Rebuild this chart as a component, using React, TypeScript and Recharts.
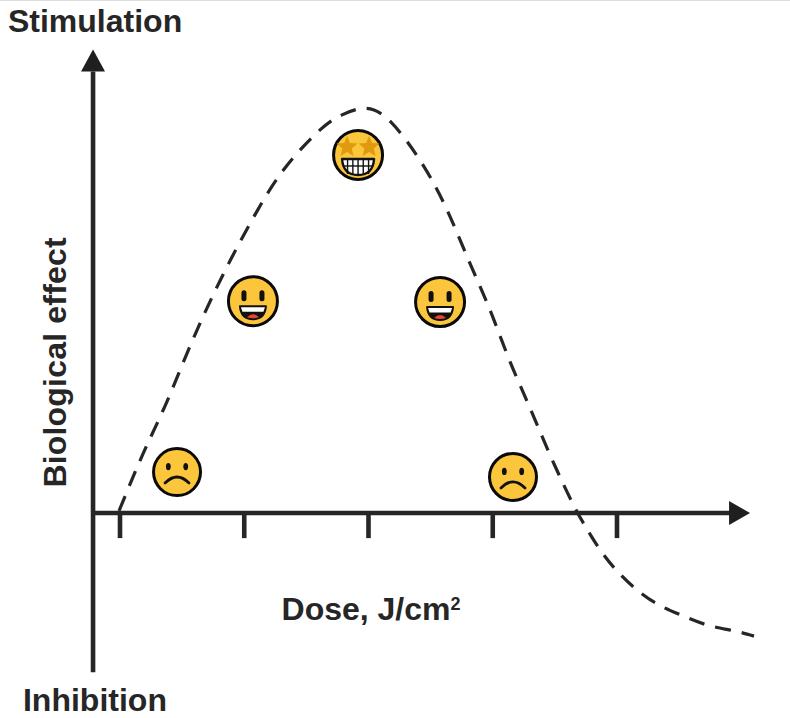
import React from "react";
import { ComposedChart, Line, Scatter, XAxis, YAxis, ReferenceLine, ReferenceDot } from "recharts";

const curveDose = [-0.008,0.185,0.362,0.531,0.7,0.893,1.095,1.328,1.61,1.787,1.972,2.181,2.439,2.64,2.809,2.978,3.131,3.3,3.469,3.646,3.759,3.871,4.0,4.161,4.338,4.531,4.732,4.942,5.103];
const curveEffect = [0.5,14.6,26.4,38.8,50.6,62.7,74.1,85.2,94.6,98.3,99.9,96.5,85.9,74.3,62.2,50.1,38.0,25.9,13.8,2.2,-4.0,-9.4,-14.3,-19.0,-22.7,-25.4,-27.7,-29.1,-30.4];

const faceDose = [0.459,1.07,1.916,2.576,3.163];
const faceEffect = [10.1,52.3,88.4,52.1,8.9];
const faceMood = ["sad","happy","star","happy","sad"];

const tickDoses = [0,1,2,3,4];

const curve = curveDose.map((dose, i) => ({ dose, effect: curveEffect[i] }));
const faces = faceDose.map((dose, i) => ({ dose, effect: faceEffect[i], mood: faceMood[i] }));

const INK = "#262626";
const FONT = "'Liberation Sans', Arial, sans-serif";

const Star = ({ x, y, s }: { x: number; y: number; s: number }) => {
  const pts: string[] = [];
  for (let i = 0; i < 10; i++) {
    const a = -Math.PI / 2 + (i * Math.PI) / 5;
    const r = i % 2 === 0 ? s : s * 0.45;
    pts.push(`${x + r * Math.cos(a)},${y + r * Math.sin(a)}`);
  }
  return <polygon points={pts.join(" ")} fill="#df9a10" />;
};

const Face = (props: any) => {
  const { cx, cy, payload } = props;
  const { mood } = payload;
  const p = (dx: number, dy: number) => `${cx + dx} ${cy + dy}`;
  const r = mood === "sad" ? 23.5 : 24.5;
  return (
    <g>
      <circle cx={cx} cy={cy} r={r} fill="#fcc63c" stroke="#0a0a0a" strokeWidth={3} />
      {mood === "sad" && (
        <g>
          <ellipse cx={cx - 8.7} cy={cy - 5.5} rx={2.4} ry={3.6} fill="#111" />
          <ellipse cx={cx + 8.7} cy={cy - 5.5} rx={2.4} ry={3.6} fill="#111" />
          <path d={`M ${p(-12, 11)} Q ${p(0, -1)} ${p(12, 11)}`} fill="none" stroke="#111" strokeWidth={2.8} strokeLinecap="round" />
        </g>
      )}
      {mood === "happy" && (
        <g>
          <rect x={cx - 11.5} y={cy - 11} width={5} height={11} rx={2.5} fill="#111" />
          <rect x={cx + 6.5} y={cy - 11} width={5} height={11} rx={2.5} fill="#111" />
          <path d={`M ${p(-13, 5)} L ${p(13, 5)} Q ${p(12, 18)} ${p(0, 18)} Q ${p(-12, 18)} ${p(-13, 5)} Z`} fill="#111" stroke="#111" strokeWidth={2} strokeLinejoin="round" />
          <path d={`M ${p(-12, 6)} L ${p(12, 6)} L ${p(10.5, 10.5)} L ${p(-10.5, 10.5)} Z`} fill="#fff" />
          <path d={`M ${p(-6, 16)} Q ${p(0, 10)} ${p(6, 16)} Q ${p(0, 18)} ${p(-6, 16)} Z`} fill="#e8452f" />
        </g>
      )}
      {mood === "star" && (
        <g>
          <Star x={cx - 11} y={cy - 8} s={11} />
          <Star x={cx + 11} y={cy - 8} s={11} />
          <path d={`M ${p(-16, 4)} L ${p(16, 4)} Q ${p(15, 20)} ${p(0, 20)} Q ${p(-15, 20)} ${p(-16, 4)} Z`} fill="#fff" stroke="#111" strokeWidth={2.4} strokeLinejoin="round" />
          {[-10.5, -5.2, 0, 5.2, 10.5].map((d) => (
            <line key={d} x1={cx + d} y1={cy + 5} x2={cx + d} y2={cy + 19} stroke="#111" strokeWidth={1.4} />
          ))}
          <line x1={cx - 15} y1={cy + 11} x2={cx + 15} y2={cy + 11} stroke="#111" strokeWidth={1.4} />
        </g>
      )}
    </g>
  );
};

const axisStyle = { stroke: INK, strokeWidth: 4.6 };

const App = () => (
  <div style={{ position: "absolute", left: 0, top: 0, width: 790, height: 718, background: "#fff", overflow: "hidden" }}>
    <div style={{ position: "absolute", left: 0, top: 0, width: 790, height: 1, background: "#dedede" }} />
    <ComposedChart width={790} height={718} margin={{ top: 0, right: 0, bottom: 0, left: 0 }} data={curve}>
      <XAxis dataKey="dose" type="number" domain={[-0.9658, 5.3924]} allowDataOverflow hide />
      <YAxis dataKey="effect" type="number" domain={[-50.617, 126.667]} allowDataOverflow hide width={0} />

      <ReferenceLine segment={[{ x: -0.217, y: 109 }, { x: -0.217, y: -39.3 }]} {...axisStyle} ifOverflow="visible" />
      <ReferenceLine segment={[{ x: -0.217, y: 0 }, { x: 4.95, y: 0 }]} {...axisStyle} ifOverflow="visible" />
      {tickDoses.map((t) => (
        <ReferenceLine key={t} segment={[{ x: t, y: 0 }, { x: t, y: -6.2 }]} {...axisStyle} ifOverflow="visible" />
      ))}
      <ReferenceDot x={-0.217} y={109} r={0} shape={(p: any) => (
        <polygon points={`${p.cx},${p.cy - 22} ${p.cx - 12},${p.cy} ${p.cx + 12},${p.cy}`} fill="#1f1f1f" />
      )} />
      <ReferenceDot x={4.95} y={0} r={0} shape={(p: any) => (
        <polygon points={`${p.cx + 15},${p.cy} ${p.cx - 6},${p.cy - 12} ${p.cx - 6},${p.cy + 12}`} fill="#1f1f1f" />
      )} />

      <Line dataKey="effect" type="natural" data={curve} stroke="#262626" strokeWidth={3.2} strokeDasharray="16 11" dot={false} activeDot={false} isAnimationActive={false} />
      <Scatter data={faces} shape={Face} isAnimationActive={false} />

      <ReferenceDot x={-0.966} y={118.8} r={0} ifOverflow="visible" shape={(p: any) => (
        <text x={p.cx + 8} y={p.cy} fontFamily={FONT} fontWeight={700} fontSize={32} fill={INK}>Stimulation</text>
      )} />
      <ReferenceDot x={-0.966} y={-49} r={0} ifOverflow="visible" shape={(p: any) => (
        <text x={p.cx + 23} y={p.cy} fontFamily={FONT} fontWeight={700} fontSize={32} fill={INK}>Inhibition</text>
      )} />
      <ReferenceDot x={-0.435} y={37.2} r={0} ifOverflow="visible" shape={(p: any) => (
        <text x={0} y={0} transform={`translate(${p.cx},${p.cy}) rotate(-90)`} textAnchor="middle" letterSpacing={0.2} fontFamily={FONT} fontWeight={700} fontSize={32} fill={INK}>Biological effect</text>
      )} />
      <ReferenceDot x={1.3} y={-26.3} r={0} ifOverflow="visible" shape={(p: any) => (
        <text x={p.cx} y={p.cy} fontFamily={FONT} fontWeight={700} fontSize={32} fill={INK}>Dose, J/cm<tspan fontSize={18} dy={-10}>2</tspan></text>
      )} />
    </ComposedChart>
  </div>
);

export default App;
